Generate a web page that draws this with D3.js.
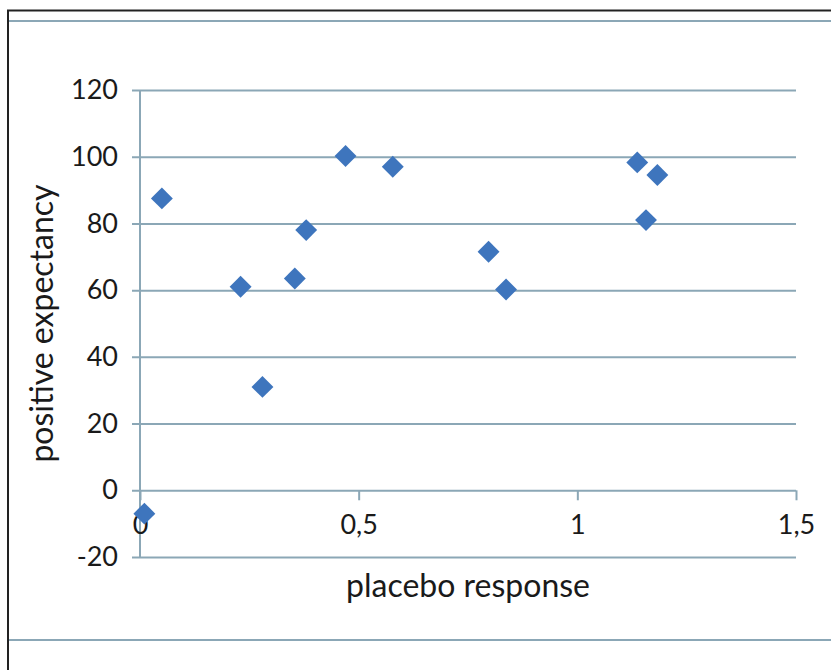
<!DOCTYPE html>
<html>
<head>
<meta charset="utf-8">
<script src="https://cdn.jsdelivr.net/npm/d3@7"></script>
<style>
  html, body { margin: 0; padding: 0; background: #fff; }
  svg { display: block; }
  text { font-family: Lato, "Open Sans", sans-serif; fill: #1a1a1a; }
</style>
</head>
<body>
<svg id="chart" width="831" height="670"></svg>
<script>
const placeboResponse = [0.01, 0.05, 0.23, 0.28, 0.354, 0.38, 0.47, 0.578, 0.797, 0.837, 1.137, 1.183, 1.157];
const positiveExpectancy = [-7, 87.5, 61, 31, 63.5, 78, 100.2, 97, 71.5, 60.2, 98.3, 94.5, 81];
const xTicks = [0, 0.5, 1, 1.5];
const xTickLabels = ["0", "0,5", "1", "1,5"];
const yTicks = [-20, 0, 20, 40, 60, 80, 100, 120];
const xTitle = "placebo response";
const yTitle = "positive expectancy";

const svg = d3.select("#chart");
const gridColor = "#8ba7b6";
const pointColor = "#3e75bd";
const font = "Lato, 'Open Sans', sans-serif";

const x = d3.scaleLinear().domain([0, 1.5]).range([140, 796]);
const y = d3.scaleLinear().domain([-20, 120]).range([557, 90]);

// frame
svg.append("line").attr("x1", 7).attr("x2", 831).attr("y1", 10.5).attr("y2", 10.5)
  .attr("stroke", "#222").attr("stroke-width", 2);
svg.append("line").attr("x1", 8).attr("x2", 8).attr("y1", 10).attr("y2", 670)
  .attr("stroke", "#222").attr("stroke-width", 2);
svg.append("line").attr("x1", 9).attr("x2", 831).attr("y1", 21).attr("y2", 21)
  .attr("stroke", gridColor).attr("stroke-width", 2);
svg.append("line").attr("x1", 9).attr("x2", 831).attr("y1", 640).attr("y2", 640)
  .attr("stroke", gridColor).attr("stroke-width", 2);

// horizontal gridlines with y axis
const yAxis = d3.axisLeft(y).tickValues(yTicks).tickSize(-(x(1.5) - x(0))).tickSizeOuter(0).tickPadding(22)
  .tickFormat(d => d3.format("d")(d).replace("−", "-"));
const gy = svg.append("g").attr("transform", `translate(${x(0)},0)`).call(yAxis);
gy.select(".domain").remove();
gy.selectAll(".tick line").attr("stroke", gridColor).attr("stroke-width", 2).attr("x1", -8);
gy.selectAll(".tick text").attr("font-size", 27).style("font-family", font).attr("fill", "#1a1a1a");

// vertical axis line
svg.append("line").attr("x1", x(0)).attr("x2", x(0)).attr("y1", y(120)).attr("y2", y(-20))
  .attr("stroke", gridColor).attr("stroke-width", 2);

// x axis at y=0
const xAxis = d3.axisBottom(x).tickValues(xTicks).tickSize(10).tickSizeOuter(0).tickPadding(15)
  .tickFormat((d, i) => xTickLabels[i]);
const gx = svg.append("g").attr("transform", `translate(0,${y(0)})`).call(xAxis);
gx.select(".domain").remove();
gx.selectAll(".tick line").attr("stroke", gridColor).attr("stroke-width", 2);
gx.selectAll(".tick text").attr("font-size", 27).style("font-family", font).attr("fill", "#1a1a1a");

// points
const diamond = d3.symbol().type(d3.symbolSquare).size(240);
svg.append("g").selectAll("path").data(placeboResponse.map((v, i) => [v, positiveExpectancy[i]]))
  .join("path")
  .attr("d", diamond)
  .attr("transform", d => `translate(${x(d[0])},${y(d[1])}) rotate(45)`)
  .attr("fill", pointColor);

// titles
svg.append("text").attr("x", (x(0) + x(1.5)) / 2).attr("y", 597)
  .attr("text-anchor", "middle").attr("font-size", 32).text(xTitle);
svg.append("text").attr("transform", `translate(53,${(y(120) + y(-20)) / 2}) rotate(-90)`)
  .attr("text-anchor", "middle").attr("font-size", 32).text(yTitle);
</script>
</body>
</html>
